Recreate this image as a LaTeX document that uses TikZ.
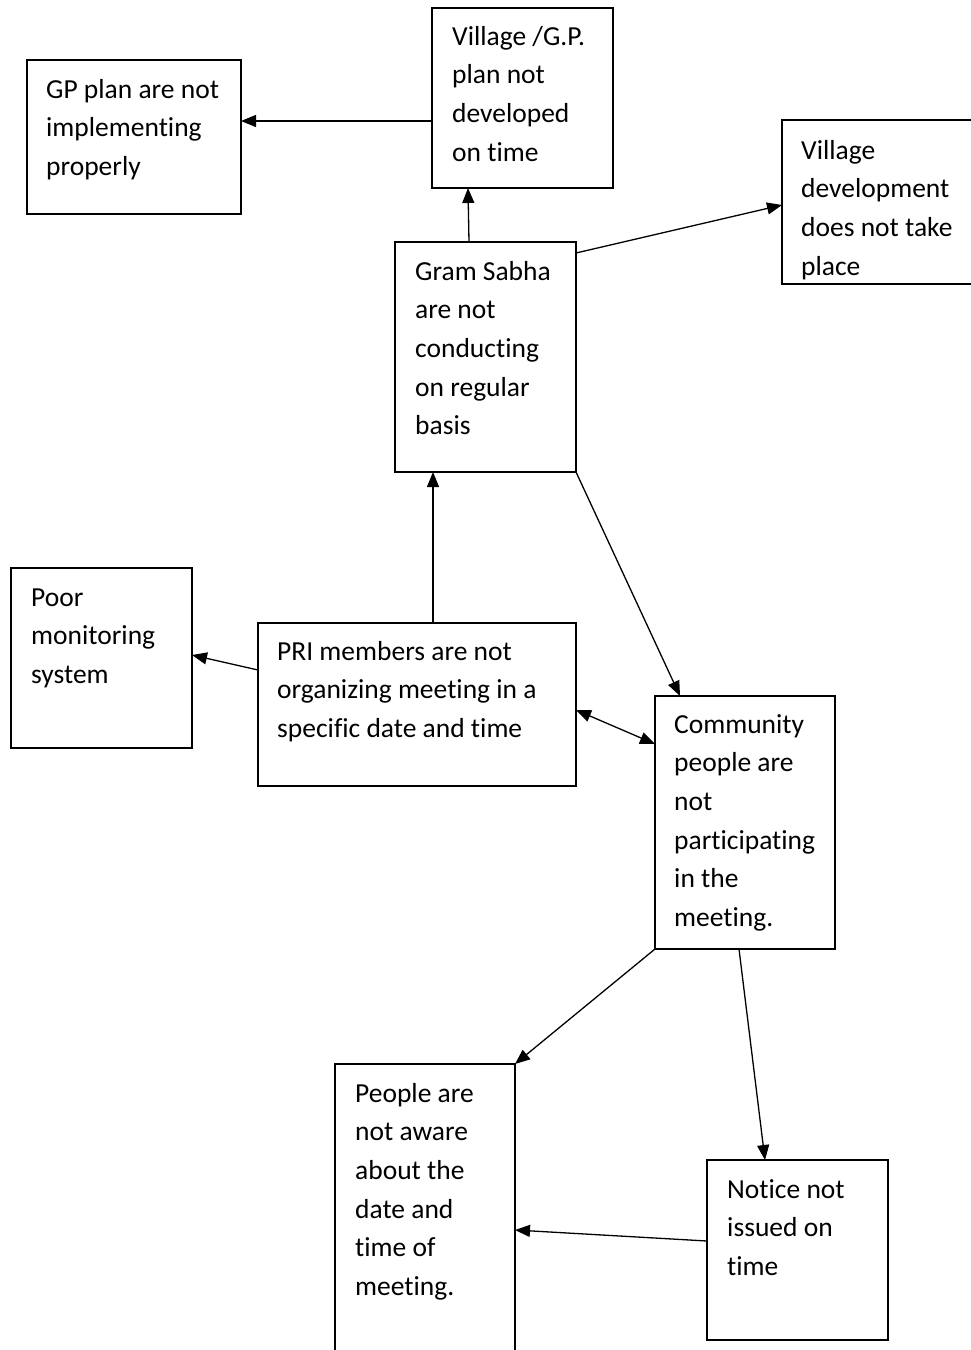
\documentclass[tikz,border=0pt]{standalone}
\usepackage{fontspec}
\setmainfont{Carlito}[Ligatures=NoCommon]
\usetikzlibrary{arrows.meta}
\begin{document}
\begin{tikzpicture}[x=1pt,y=-1pt,
  box/.style={draw, line width=1.3pt, anchor=north west, inner sep=0pt, outer sep=0pt},
  txt/.style={anchor=base west, inner sep=0pt, font=\fontsize{27.5}{38.7}\selectfont},
  link/.style={line width=1.3pt, -{Triangle[length=15pt,width=12pt]}},
  both/.style={line width=1.3pt, {Triangle[length=15pt,width=12pt]}-{Triangle[length=15pt,width=12pt]}},
]
\newcommand{\lines}[1]{\parbox[t]{400pt}{\raggedright #1}}
\clip (0,0) rectangle (971,1350);

% boxes
\node[box, minimum width=214pt, minimum height=154pt] (b1) at (27,60) {};
\node[box, minimum width=181pt, minimum height=180pt] (b2) at (432,8) {};
\node[box, minimum width=200pt, minimum height=164pt] (b3) at (782,120) {};
\node[box, minimum width=181pt, minimum height=230pt] (b4) at (395,242) {};
\node[box, minimum width=181pt, minimum height=180pt] (b5) at (11,568) {};
\node[box, minimum width=318pt, minimum height=163pt] (b6) at (258,623) {};
\node[box, minimum width=180pt, minimum height=253pt] (b7) at (655,696) {};
\node[box, minimum width=180pt, minimum height=300pt] (b8) at (335,1064) {};
\node[box, minimum width=181pt, minimum height=180pt] (b9) at (707,1160) {};

% texts
\node[txt] (t1) at (46,98) {\lines{GP plan are not\\implementing\\properly}};
\node[txt] (t2) at (452,45) {\lines{Village /G.P.\\plan not\\developed\\on time}};
\begin{scope}
  \clip (b3.north west) rectangle (b3.south east);
  \node[txt] (t3) at (801,159) {\lines{Village\\development\\does not take\\place}};
\end{scope}
\node[txt] (t4) at (415,280) {\lines{Gram Sabha\\are not\\conducting\\on regular\\basis}};
\node[txt] (t5) at (31,606) {\lines{Poor\\monitoring\\system}};
\node[txt] (t6) at (277,660) {\lines{PRI members are not\\organizing meeting in a\\specific date and time}};
\node[txt] (t7) at (674,733) {\lines{Community\\people are\\not\\participating\\in the\\meeting.}};
\node[txt] (t8) at (355,1102) {\lines{People are\\not aware\\about the\\date and\\time of\\meeting.}};
\node[txt] (t9) at (727,1198) {\lines{Notice not\\issued on\\time}};

% connectors
\draw[link] ([yshift=-23pt]b2.west) -- ([yshift=16pt]b1.east);
\draw[link] ([xshift=-16.5pt]b4.north) -- ([xshift=-54.5pt]b2.south);
\draw[link] ([yshift=-11pt]b4.north east) -- ([yshift=-3pt]b3.west);
\draw[link] ([xshift=16pt]b6.north) -- ([xshift=-52.5pt]b4.south);
\draw[link] ([yshift=34.5pt]b6.west) -- ([yshift=3pt]b5.east);
\draw[both] ([yshift=-5.5pt]b6.east) -- ([yshift=78.5pt]b7.west);
\draw[link] (b4.south east) -- ([xshift=-65pt]b7.north);
\draw[link] (b7.south west) -- (b8.north east);
\draw[link] ([xshift=-6pt]b7.south) -- ([xshift=-32.5pt]b9.north);
\draw[link] ([yshift=9pt]b9.west) -- ([yshift=-16pt]b8.east);
\end{tikzpicture}
\end{document}
